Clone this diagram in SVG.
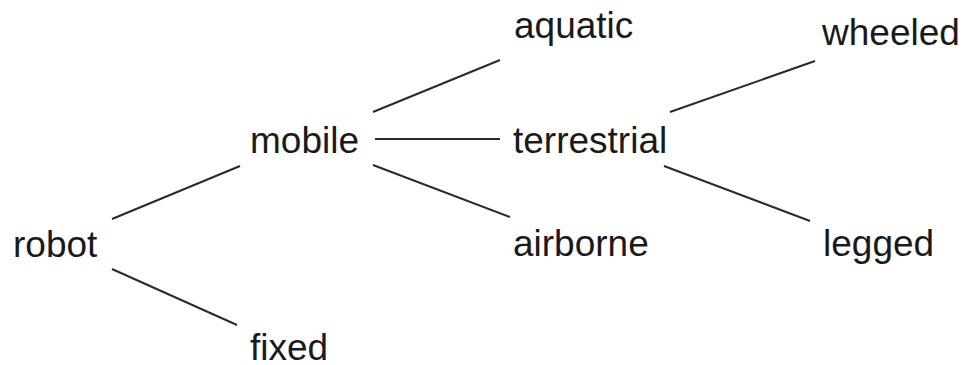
<svg xmlns="http://www.w3.org/2000/svg" width="965" height="365" viewBox="0 0 965 365">
  <style>
    .label { font-family: "Liberation Sans", Arial, sans-serif; font-size: 37px; fill: #1a1a1a; }
    .edge { stroke: #2a2a2a; stroke-width: 2; fill: none; }
  </style>
  <rect width="965" height="365" fill="#ffffff"/>
  <g id="connectors">
    <line class="edge" x1="112" y1="219" x2="240" y2="166"/>
    <line class="edge" x1="112" y1="269" x2="237" y2="325"/>
    <line class="edge" x1="373" y1="112" x2="500" y2="60"/>
    <line class="edge" x1="375" y1="139" x2="500" y2="139"/>
    <line class="edge" x1="373" y1="165" x2="510" y2="217"/>
    <line class="edge" x1="670" y1="112" x2="815" y2="61"/>
    <line class="edge" x1="664" y1="166" x2="810" y2="221"/>
  </g>
  <g id="robot"><text class="label" x="13" y="257">robot</text></g>
  <g id="mobile"><text class="label" x="250" y="153">mobile</text></g>
  <g id="fixed"><text class="label" x="250" y="360">fixed</text></g>
  <g id="aquatic"><text class="label" x="514" y="38">aquatic</text></g>
  <g id="terrestrial"><text class="label" x="513" y="153">terrestrial</text></g>
  <g id="airborne"><text class="label" x="513" y="256">airborne</text></g>
  <g id="wheeled"><text class="label" x="822" y="45">wheeled</text></g>
  <g id="legged"><text class="label" x="823" y="256">legged</text></g>
</svg>
